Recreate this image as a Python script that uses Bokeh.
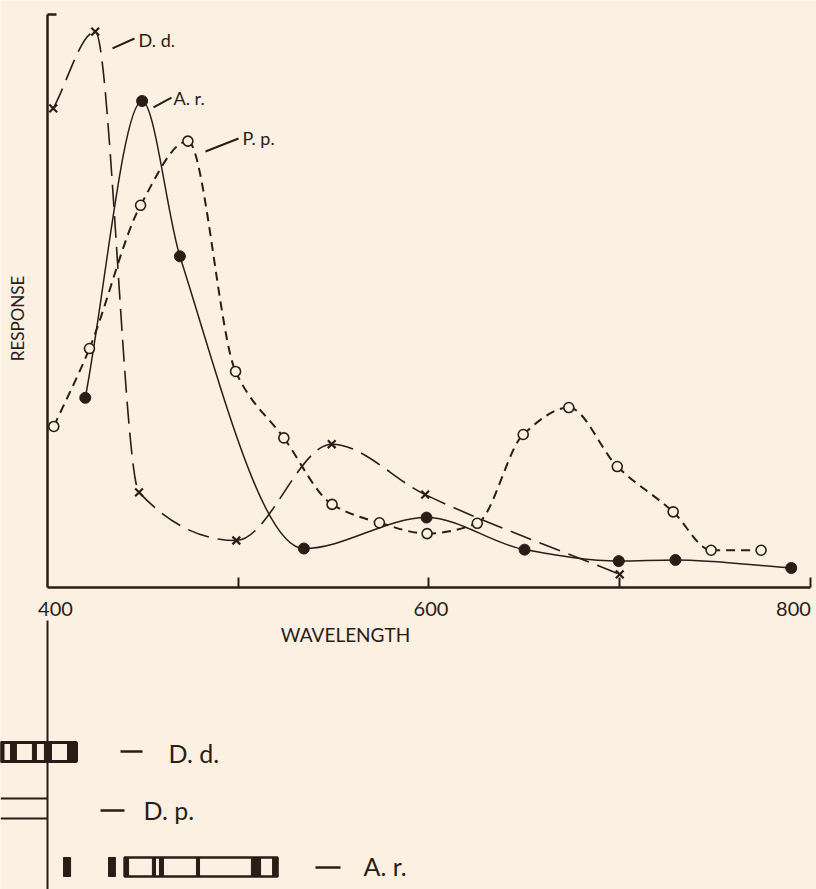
import numpy as np
from bokeh.plotting import figure
from bokeh.models import FixedTicker
from bokeh.embed import file_html
from bokeh.resources import INLINE
from bokeh.core.properties import value

# ---------------- data ----------------
# D. d.  (crosses, long dashes)
dd_wl = [403, 425, 448, 499, 549, 598, 700]
dd_resp = [83.6, 97.0, 16.6, 8.2, 25.0, 16.2, 2.3]
# A. r.  (filled dots, solid)
ar_wl = [419.8, 449.6, 469.4, 534.4, 598.7, 650.1, 699.5, 729.2, 789.9]
ar_resp = [33.1, 84.9, 57.8, 6.8, 12.2, 6.6, 4.6, 4.8, 3.4]
# P. p.  (open circles, short dashes)
pp_wl = [403.3, 422.0, 448.8, 473.6, 498.6, 523.9, 549.2, 574.0, 599.0,
         625.3, 649.4, 673.3, 698.7, 728.0, 747.9, 774.1]
pp_resp = [28.1, 41.7, 66.7, 77.9, 37.7, 26.1, 14.5, 11.3, 9.4,
           11.2, 26.7, 31.4, 21.1, 13.2, 6.5, 6.5]

x_ticks = [500, 600, 700, 800]
x_label_vals = [400, 600, 800]
x_label_text = ["400", "600", "800"]

# lower band diagram (wavelength spans of bands)
dd_band_outline = [(375.4, 415.2)]
dd_band_dark = [(375.4, 377.2), (380.6, 383.7), (392.1, 394.2), (398.4, 402.1), (410.5, 415.2)]
dp_band_lines = [(375.4, 400.0)]
ar_band_outline = [(440.4, 520.6)]
ar_band_dark = [(408.4, 412.1), (432.0, 435.6), (440.4, 442.5), (455.0, 456.6),
                (458.7, 460.8), (478.1, 479.7), (506.9, 511.7), (518.0, 520.6)]
band_names = ["D. d.", "D. p.", "A. r."]

# ---------------- style ----------------
BG = "#fcf0e2"
INK = "#2a1c17"
FONT = value("Lato")


def smooth_segments(xs, ys):
    """Monotone cubic (PCHIP) tangents -> Bezier control points between data points."""
    x = np.asarray(xs, float)
    y = np.asarray(ys, float)
    h = np.diff(x)
    d = np.diff(y) / h
    n = len(x)
    m = np.zeros(n)
    m[0], m[-1] = d[0], d[-1]
    for k in range(1, n - 1):
        if d[k - 1] * d[k] <= 0:
            m[k] = 0.0
        else:
            w1 = 2 * h[k] + h[k - 1]
            w2 = h[k] + 2 * h[k - 1]
            m[k] = (w1 + w2) / (w1 / d[k - 1] + w2 / d[k])
    return dict(x0=x[:-1], y0=y[:-1], x1=x[1:], y1=y[1:],
                cx0=x[:-1] + h / 3, cy0=y[:-1] + m[:-1] * h / 3,
                cx1=x[1:] - h / 3, cy1=y[1:] - m[1:] * h / 3)


p = figure(width=816, height=889, x_range=(375.36, 803.15), y_range=(-52.71, 102.44),
           output_backend="svg", toolbar_location=None, title=None, min_border=0)
p.outline_line_color = None
p.background_fill_color = BG
p.border_fill_color = BG
p.grid.visible = False

# axes
xa = p.xaxis[0]
xa.fixed_location = 0
xa.bounds = (400, 800)
xa.ticker = FixedTicker(ticks=x_ticks)
xa.major_tick_in = 10
xa.major_tick_out = 0
xa.minor_tick_in = 0
xa.minor_tick_out = 0
xa.major_label_overrides = {t: "" for t in x_ticks}
xa.axis_line_width = 2.5
xa.axis_line_color = INK
xa.major_tick_line_width = 2
xa.major_tick_line_color = INK

ya = p.yaxis[0]
ya.fixed_location = 400
ya.bounds = (0, 100)
ya.ticker = FixedTicker(ticks=[100])
ya.major_tick_in = 9
ya.major_tick_out = 0
ya.minor_tick_in = 0
ya.minor_tick_out = 0
ya.major_label_overrides = {100: ""}
ya.axis_line_width = 2.5
ya.axis_line_color = INK
ya.major_tick_line_width = 2.5
ya.major_tick_line_color = INK

# curves
p.bezier(**smooth_segments(dd_wl, dd_resp), line_color=INK, line_width=1.6, line_dash="22 9")
p.bezier(**smooth_segments(ar_wl, ar_resp), line_color=INK, line_width=1.5)
p.bezier(**smooth_segments(pp_wl, pp_resp), line_color=INK, line_width=2.0, line_dash="9 6")

# markers
p.scatter(dd_wl, dd_resp, marker="x", size=11, line_width=2.2, line_color=INK)
p.scatter(ar_wl, ar_resp, marker="circle", size=11, fill_color=INK, line_color=INK)
p.scatter(pp_wl, pp_resp, marker="circle", size=10, fill_color=BG, line_color=INK, line_width=1.6)

# curve labels with leader lines
p.segment(x0=[434.08, 455.57, 482.83], y0=[94.07, 83.77, 76.09],
          x1=[445.61, 465.01, 500.13], y1=[95.81, 85.51, 78.36], line_color=INK, line_width=2)
p.text(x=[447.71, 466.06, 502.23], y=[95.46, 85.51, 78.36], text=["D. d.", "A. r.", "P. p."],
       text_font=FONT, text_font_size="18px", text_color=INK, text_align="left",
       text_baseline="middle")

# tick labels and axis titles
p.text(x=x_label_vals, y=[-3.7] * 3, text=x_label_text, x_offset=[8, 2, -17],
       text_font=FONT, text_font_size="20px", text_color=INK, text_align="center",
       text_baseline="middle")
p.text(x=[556.23], y=[-8.2], text=["WAVELENGTH"], text_font=FONT, text_font_size="19px",
       text_color=INK, text_align="center", text_baseline="middle")
p.text(x=[384.53], y=[46.95], text=["RESPONSE"], angle=np.pi / 2, text_font=FONT,
       text_font_size="17px", text_color=INK, text_align="center", text_baseline="middle")

# ---------------- lower band diagram ----------------
p.segment(x0=[400], y0=[-5.76], x1=[400], y1=[-53], line_color=INK, line_width=2)

# D. d. row
p.quad(left=[a for a, b in dd_band_outline], right=[b for a, b in dd_band_outline],
       bottom=-30.37, top=-27.05, fill_color=None, line_color=INK, line_width=3)
p.quad(left=[a for a, b in dd_band_dark], right=[b for a, b in dd_band_dark],
       bottom=-30.37, top=-27.05, fill_color=INK, line_color=INK, line_width=1)
# D. p. row
p.segment(x0=[a for a, b in dp_band_lines] * 2, x1=[b for a, b in dp_band_lines] * 2,
          y0=[-36.82, -40.31], y1=[-36.82, -40.31], line_color=INK, line_width=2)
# A. r. row
p.quad(left=[a for a, b in ar_band_outline], right=[b for a, b in ar_band_outline],
       bottom=-50.44, top=-47.12, fill_color=None, line_color=INK, line_width=2.5)
p.quad(left=[a for a, b in ar_band_dark], right=[b for a, b in ar_band_dark],
       bottom=-50.44, top=-47.12, fill_color=INK, line_color=INK, line_width=1)

# row names with dashes
p.segment(x0=[438.27, 427.79, 540.50], x1=[449.80, 440.37, 553.60],
          y0=[-28.62, -38.92, -48.87], y1=[-28.62, -38.92, -48.87], line_color=INK, line_width=2.5)
p.text(x=[463.43, 450.33, 565.66], y=[-28.97, -38.92, -48.69], text=band_names,
       text_font=FONT, text_font_size="25px", text_color=INK, text_align="left",
       text_baseline="middle")

open("out.html", "w").write(file_html(p, INLINE))
